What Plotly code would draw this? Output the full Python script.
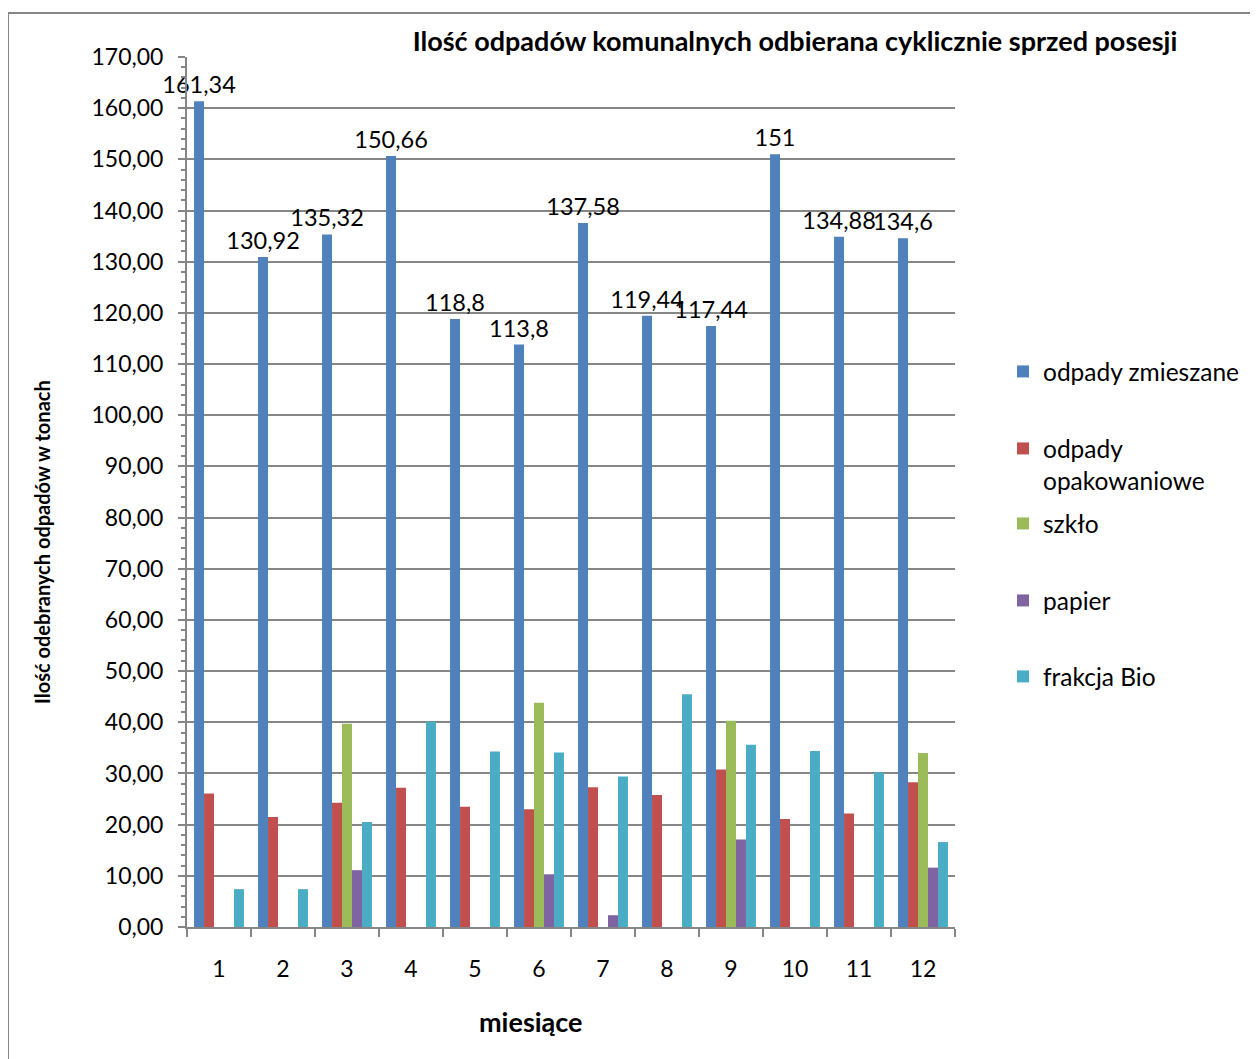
import plotly.graph_objects as go

months = ["1", "2", "3", "4", "5", "6", "7", "8", "9", "10", "11", "12"]
zmieszane = [161.34, 130.92, 135.32, 150.66, 118.8, 113.8, 137.58, 119.44, 117.44, 151, 134.88, 134.6]
opakowaniowe = [26.1, 21.5, 24.3, 27.2, 23.5, 23.0, 27.3, 25.8, 30.8, 21.1, 22.2, 28.3]
szklo = [None, None, 39.7, None, None, 43.8, None, None, 40.3, None, None, 34.0]
papier = [None, None, 11.1, None, None, 10.3, 2.3, None, 17.1, None, None, 11.6]
bio = [7.4, 7.4, 20.5, 40.1, 34.3, 34.1, 29.4, 45.5, 35.6, 34.4, 30.2, 16.6]

series_names = ["odpady zmieszane", "odpady<br>opakowaniowe", "szkło", "papier", "frakcja Bio"]
colors = ["#4F81BD", "#C0504D", "#9BBB59", "#8064A2", "#4BACC6"]
series = [zmieszane, opakowaniowe, szklo, papier, bio]

FONT = "Lato"
OFF = 8  # page body margin
W, H = 1258 - OFF, 1059 - OFF
L, R, T, B = 187 - OFF, 955 - OFF, 57 - OFF, 927 - OFF


def px_x(px):
    return (px - OFF - L) / (R - L)


def px_y(py):
    return (B - (py - OFF)) / (B - T)


fig = go.Figure()
legend_ys = [370, 447, 522, 599, 675]
legend_names = ["legend", "legend2", "legend3", "legend4", "legend5"]
for i, (name, col, vals) in enumerate(zip(series_names, colors, series)):
    kw = {}
    if i == 0:
        kw = dict(text=[f"{v:g}".replace(".", ",") for v in vals],
                  textposition="outside", constraintext="none", cliponaxis=False,
                  textfont=dict(family=FONT, size=23.5, color="#000000"))
    fig.add_trace(go.Bar(x=months, y=vals, name=name, marker=dict(color=col, line=dict(width=0)),
                         legend=legend_names[i], **kw))

layout_legends = {}
for i, ln in enumerate(legend_names):
    layout_legends[ln] = dict(
        x=px_x(1003), xanchor="left",
        y=px_y(legend_ys[i] - 21), yanchor="top",
        font=dict(family=FONT, size=24.5, color="#000000"),
        bgcolor="rgba(0,0,0,0)", borderwidth=0, itemwidth=30, valign="top",
        itemclick=False, itemdoubleclick=False,
    )

fig.update_layout(
    width=W, height=H,
    margin=dict(l=L, r=W - R, t=T, b=H - B, pad=0),
    paper_bgcolor="white", plot_bgcolor="white",
    barmode="group", bargap=0.22, bargroupgap=0,
    separators=", ",
    font=dict(family=FONT, size=23, color="#000000"),
    title=dict(text="<b>Ilość odpadów komunalnych odbierana cyklicznie sprzed posesji</b>",
               x=(795 - OFF) / W, xanchor="center", xref="container",
               y=1 - (42 - OFF) / H, yanchor="middle", yref="container",
               font=dict(family=FONT, size=27, color="#000000")),
    showlegend=True,
    **layout_legends,
)

fig.update_yaxes(
    range=[0, 170], dtick=10, tickformat=".2f",
    showgrid=True, gridcolor="#868686", gridwidth=2,
    showline=True, linecolor="#868686", linewidth=2,
    ticks="outside", ticklen=7, tickcolor="#868686", tickwidth=2,
    minor=dict(dtick=2, ticks="outside", ticklen=4, tickcolor="#868686", tickwidth=1.5, showgrid=False),
    tickfont=dict(family=FONT, size=23, color="#000000"),
    ticklabelstandoff=10,
    zeroline=False, fixedrange=True,
)
fig.update_xaxes(
    type="category", tickson="boundaries",
    showline=True, linecolor="#868686", linewidth=2,
    ticks="outside", ticklen=8, tickcolor="#868686", tickwidth=2,
    tickfont=dict(family=FONT, size=23, color="#000000"),
    ticklabelstandoff=20,
    showgrid=False, fixedrange=True,
)

# axis titles (positioned like the original, off-centre)
fig.add_annotation(text="<b>Ilość odebranych odpadów w tonach</b>", textangle=-90,
                   xref="paper", yref="paper", x=px_x(42), y=px_y(542),
                   xanchor="center", yanchor="middle", showarrow=False,
                   font=dict(family=FONT, size=20, color="#000000"))
fig.add_annotation(text="<b>miesiące</b>",
                   xref="paper", yref="paper", x=px_x(531), y=px_y(1021),
                   xanchor="center", yanchor="middle", showarrow=False,
                   font=dict(family=FONT, size=27, color="#000000"))

# outer chart frame
fig.add_shape(type="rect", xref="paper", yref="paper",
              x0=px_x(8), x1=px_x(1263),
              y0=px_y(1064), y1=px_y(13),
              line=dict(color="#868686", width=2), fillcolor="rgba(0,0,0,0)", layer="below")

fig.write_html("out.html")
